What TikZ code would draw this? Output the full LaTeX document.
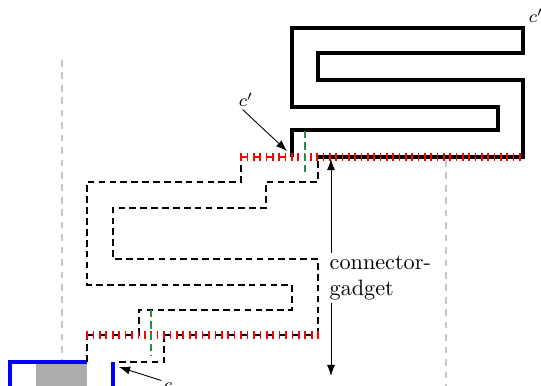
\documentclass[tikz,border=0pt]{standalone}
\usepackage{tikz}
\usetikzlibrary{arrows.meta, positioning, calc}
\definecolor{cutred}{RGB}{255,0,0}
\definecolor{splitgreen}{RGB}{38,140,72}
\definecolor{boxblue}{RGB}{0,0,255}

\begin{document}
\begin{tikzpicture}[x=0.45pt, y=-0.45pt,
  gadget/.style={line width=1.4pt},
  connline/.style={line width=0.9pt, dash pattern=on 3pt off 1.9pt},
  guide/.style={gray!45, line width=0.7pt, dash pattern=on 3pt off 2.6pt},
  split/.style={splitgreen, line width=1.3pt, dash pattern=on 3.3pt off 1.8pt},
  tickmark/.style={cutred, line width=0.75pt},
  pointer/.style={-{Latex[length=5pt,width=3.6pt]}, thin}]
  \useasboundingbox (0,0) rectangle (541,386);
  % guides
  \draw[guide] (62,60) -- (62,362);
  \draw[guide] (446,160) -- (446,386);
  % gadget c
  \fill[gray!65] (36,364) rectangle (87,386);
  \draw[boxblue, line width=1.4pt] (10,386) -- (10,362) -- (87,362);
  \draw[boxblue, line width=1.4pt] (113,362) -- (113,386);
  % gadget c'
  \draw[gadget] (292,157) -- (292,130) -- (498,130) -- (498,107) -- (292,107) -- (292,28) -- (523,28)
    -- (523,53) -- (318,53) -- (318,80) -- (523,80) -- (523,157) -- (318,157);
  % connector
  \draw[connline] (87,362) -- (87,335) (139,335) -- (139,310) -- (292,310) -- (292,285) -- (87,285)
    -- (87,182) -- (241,182) -- (241,157);
  \draw[connline] (119,362) -- (164,362) -- (164,335) (318,335) -- (318,259) -- (113,259) -- (113,208)
    -- (266,208) -- (266,182) -- (318,182) -- (318,157);
  % cut lines
  \draw[dash pattern=on 2.9pt off 2.9pt, line width=0.9pt] (87,335) -- (139,335) (164,335) -- (318,335);
  \draw[cutred, dash pattern=on 2.85pt off 2.85pt, line width=0.9pt] (241,157) -- (292,157);
  \foreach \i in {0,...,36} { \draw[tickmark] ({87+6.42*\i},331) -- ++(0,8); }
  \foreach \i in {0,...,44} { \draw[tickmark] ({241+6.34*\i},153) -- ++(0,8); }
  % splits
  \draw[split] (305,131) -- (305,175);
  \draw[split] (151,310) -- (151,356);
  % labels
  \node[font=\footnotesize, inner sep=1pt] (cpa) at (246,100) {$c'$};
  \coordinate (cpatip) at (287,151);
  \draw[pointer] (cpa.250) -- (cpatip);
  \node[font=\footnotesize, inner sep=1pt] (cpb) at (536,16) {$c'$};
  \node[font=\footnotesize, inner sep=1pt] (ca) at (168,387) {$c$};
  \coordinate (catip) at (119,367);
  \draw[pointer] (ca.north west) -- (catip);
  \node[anchor=west, align=left, inner sep=1pt] (cg) at (327,278) {connector-\\gadget};
  \coordinate (cgtop) at (331,159);
  \coordinate (cgbot) at (331,376);
  \draw[pointer] (cg.north -| cgtop) -- (cgtop);
  \draw[pointer] (cg.south -| cgbot) -- (cgbot);
\end{tikzpicture}
\end{document}
